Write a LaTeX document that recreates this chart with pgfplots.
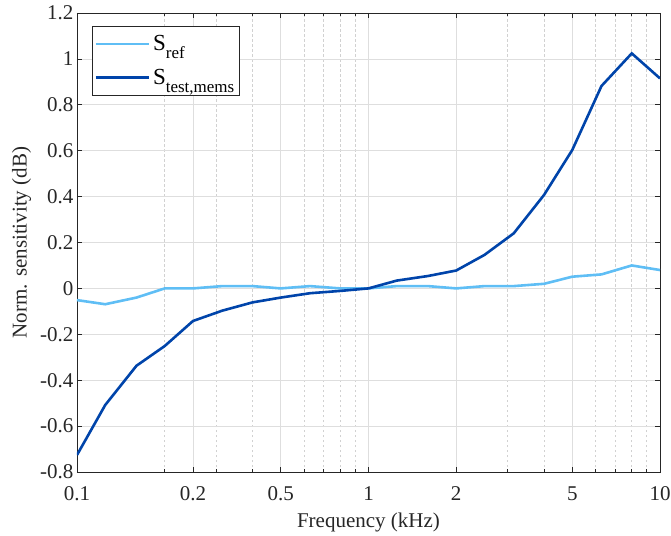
\documentclass[border=0pt]{standalone}
\usepackage{pgfplots}
\pgfplotsset{compat=1.18}
\usepackage{fontspec}
\setmainfont{Liberation Serif}

\definecolor{lightblu}{RGB}{95,190,245}
\definecolor{darkblu}{RGB}{0,68,170}
\definecolor{axgray}{RGB}{38,38,38}

% legend entry: big S with lowered subscript
\newcommand{\lent}[1]{\fontsize{23}{27}\selectfont S\raisebox{-8pt}{\fontsize{17}{17}\selectfont #1}}

\begin{document}
\begin{tikzpicture}
\useasboundingbox (-77pt,-63pt) rectangle (594pt,472pt);
\begin{axis}[
    scale only axis,
    width=583pt, height=459pt,
    xmode=log,
    xmin=0.1, xmax=10, ymin=-0.8, ymax=1.2,
    xtick={0.1,0.25,0.5,1,2,5,10},
    xticklabels={0.1,0.2,0.5,1,2,5,10},
    minor xtick={0.2,0.3,0.4,0.6,0.7,0.8,0.9,3,4,6,7,8,9},
    ytick={-0.8,-0.6,-0.4,-0.2,0,0.2,0.4,0.6,0.8,1,1.2},
    yticklabels={-0.8,-0.6,-0.4,-0.2,0,0.2,0.4,0.6,0.8,1,1.2},
    xmajorgrids, ymajorgrids, xminorgrids,
    major grid style={solid, color=black!13, line width=0.6pt},
    minor grid style={dash pattern=on 2.5pt off 2.5pt, color=black!18, line width=0.6pt},
    major tick length=5pt, minor tick length=3pt,
    axis line style={color=axgray, line width=0.6pt},
    every tick/.style={color=axgray, line width=0.6pt},
    ticklabel style={font=\fontsize{21}{24}\selectfont, text=axgray},
    xticklabel style={anchor=base, yshift=-28pt},
    label style={font=\fontsize{21}{24}\selectfont, text=axgray},
    xlabel={Frequency (kHz)},
    ylabel={Norm. sensitivity (dB)},
    xlabel style={at={(axis description cs:0.5,-0.12)}, anchor=base},
    ylabel style={at={(axis description cs:-0.095,0.5)}, anchor=center},
    legend style={at={(0.026,0.971)}, anchor=north west,
        draw=axgray, line width=0.6pt, text=black,
        nodes={inner ysep=1pt, inner xsep=3pt},
        inner xsep=2pt, inner ysep=8pt, row sep=15pt},
    legend cell align=left,
    legend image code/.code={\draw[#1] (0pt,0pt) -- (53pt,0pt);},
]
\addplot[lightblu, line width=2.6pt] coordinates {
    (0.1,-0.051) (0.125,-0.069) (0.16,-0.040) (0.2,0.0) (0.25,0.0)
    (0.315,0.01) (0.4,0.01) (0.5,0.0) (0.63,0.01) (0.8,0.0) (1,0.0)
    (1.25,0.01) (1.6,0.01) (2,0.0) (2.5,0.01) (3.15,0.01) (4,0.02)
    (5,0.051) (6.3,0.061) (8,0.10) (10,0.08)
};
\addlegendentry{\lent{ref}}
\addplot[darkblu, line width=2.6pt] coordinates {
    (0.1,-0.726) (0.125,-0.508) (0.16,-0.337) (0.2,-0.251) (0.25,-0.142)
    (0.315,-0.097) (0.4,-0.061) (0.5,-0.040) (0.63,-0.021) (0.8,-0.011)
    (1,0.0) (1.25,0.034) (1.6,0.054) (2,0.078) (2.5,0.146) (3.15,0.240)
    (4,0.407) (5,0.603) (6.3,0.882) (8,1.024) (10,0.915)
};
\addlegendentry{\lent{test,mems}}
\end{axis}
\end{tikzpicture}
\end{document}
